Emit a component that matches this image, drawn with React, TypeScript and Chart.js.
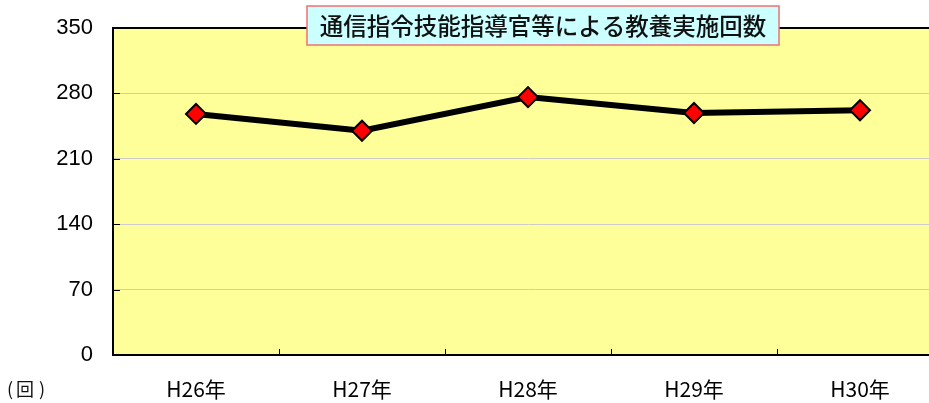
import React, { useEffect, useRef } from "react";
import { Chart, registerables } from "chart.js";

Chart.register(...registerables);

const categories = ["H26年", "H27年", "H28年", "H29年", "H30年"];
const counts = [258, 240, 276, 259, 262];
const yTicks = [0, 70, 140, 210, 280, 350];
const titleText = "通信指令技能指導官等による教養実施回数";
const unitParts = ["(", "回", ")"];

const FONT = '"Liberation Sans", "Noto Sans CJK JP", sans-serif';
const CJK = '"Noto Sans CJK JP", "Liberation Sans", sans-serif';

const decorPlugin = {
  id: "decor",
  beforeDraw(chart: any) {
    const { ctx, chartArea: a } = chart;
    ctx.save();
    ctx.fillStyle = "#FFFF99";
    ctx.fillRect(a.left, a.top, a.right - a.left, a.bottom - a.top);
    ctx.restore();
  },
  beforeDatasetsDraw(chart: any) {
    const { ctx, chartArea: a, scales } = chart;
    const x = scales.x;
    const y = scales.y;
    ctx.save();
    ctx.strokeStyle = "#000";
    ctx.lineWidth = 1;
    for (let i = 1; i < categories.length; i++) {
      const px = Math.round((x.getPixelForValue(i - 1) + x.getPixelForValue(i)) / 2) + 0.5;
      ctx.beginPath();
      ctx.moveTo(px, a.bottom);
      ctx.lineTo(px, a.bottom - 6);
      ctx.stroke();
    }
    for (const v of yTicks) {
      if (v === 0 || v === 350) continue;
      const py = Math.round(y.getPixelForValue(v)) + 0.5;
      ctx.beginPath();
      ctx.moveTo(a.left, py);
      ctx.lineTo(a.left + 7, py);
      ctx.stroke();
    }
    ctx.lineWidth = 2;
    ctx.beginPath();
    ctx.moveTo(a.left - 1, a.top);
    ctx.lineTo(a.right, a.top);
    ctx.stroke();
    ctx.beginPath();
    ctx.moveTo(a.right, a.top);
    ctx.lineTo(a.right, a.bottom);
    ctx.stroke();
    ctx.restore();
  },
  afterDraw(chart: any) {
    const { ctx } = chart;
    ctx.save();
    const bx = 307, by = 6, bw = 472, bh = 39;
    ctx.fillStyle = "#CCFFFF";
    ctx.fillRect(bx, by, bw, bh);
    ctx.strokeStyle = "#F07070";
    ctx.lineWidth = 1.5;
    ctx.strokeRect(bx, by, bw, bh);
    ctx.fillStyle = "#111";
    ctx.font = `500 23.5px ${CJK}`;
    ctx.textAlign = "center";
    ctx.textBaseline = "middle";
    ctx.fillText(titleText, bx + bw / 2, by + bh / 2 + 1);
    ctx.font = `18px ${CJK}`;
    ctx.textAlign = "left";
    ctx.fillText(unitParts[0], 7, 389);
    ctx.fillText(unitParts[1], 16, 389);
    ctx.fillText(unitParts[2], 39, 389);
    ctx.restore();
  },
};

export default function App() {
  const ref = useRef<HTMLCanvasElement>(null);
  useEffect(() => {
    if (!ref.current) return;
    const chart = new Chart(ref.current, {
      type: "line",
      data: {
        labels: categories,
        datasets: [
          {
            data: counts,
            borderColor: "#000",
            borderWidth: 6,
            pointStyle: "rectRot",
            pointRadius: 10,
            pointBackgroundColor: "#FF0000",
            pointBorderColor: "#000",
            pointBorderWidth: 2,
            tension: 0,
          },
        ],
      },
      options: {
        animation: false,
        responsive: false,
        maintainAspectRatio: false,
        events: [],
        layout: { padding: { top: 28, right: 17, left: 0, bottom: 0 } },
        plugins: { legend: { display: false }, tooltip: { enabled: false }, title: { display: false } },
        scales: {
          x: {
            offset: true,
            grid: { display: false, drawTicks: false },
            border: { display: true, color: "#000", width: 2 },
            ticks: { color: "#000", font: { family: CJK, size: 21 }, padding: 21, maxRotation: 0 },
            afterFit: (s: any) => { s.height = 48; s.paddingLeft = 0; s.paddingRight = 0; },
          },
          y: {
            min: 0,
            max: 350,
            afterBuildTicks: (s: any) => { s.ticks = yTicks.map((v) => ({ value: v })); },
            grid: {
              drawTicks: false,
              color: (c: any) => (c.tick && (c.tick.value === 0 || c.tick.value === 350) ? "rgba(0,0,0,0)" : "#CCCCCC"),
              lineWidth: 1,
            },
            border: { display: true, color: "#000", width: 2 },
            ticks: { color: "#000", font: { family: FONT, size: 22 }, padding: 20 },
            afterFit: (s: any) => { s.width = 113; s.paddingTop = 0; s.paddingBottom = 0; },
          },
        },
      },
      plugins: [decorPlugin],
    });
    return () => chart.destroy();
  }, []);
  return (
    <div style={{ position: "fixed", left: 0, top: 0, width: 929, height: 403, overflow: "hidden", background: "#fff" }}>
      <canvas ref={ref} width={960} height={403} style={{ width: 960, height: 403, display: "block" }} />
    </div>
  );
}
